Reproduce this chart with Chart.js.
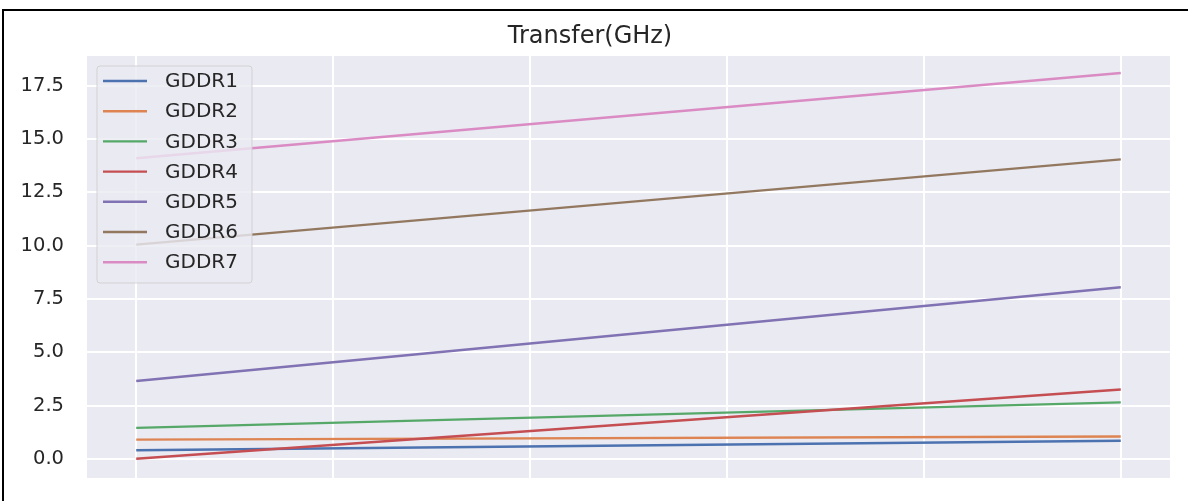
<!DOCTYPE html>
<html>
<head>
<meta charset="utf-8">
<script src="https://cdn.jsdelivr.net/npm/chart.js@4/dist/chart.umd.min.js"></script>
<style>
  html, body { margin: 0; padding: 0; background: #fff; }
  #wrap { position: relative; width: 1188px; height: 501px; }
  #frameTop { position: absolute; left: 2px; top: 9px; width: 1186px; height: 2px; background: #000; }
  #frameLeft { position: absolute; left: 2px; top: 9px; width: 2px; height: 492px; background: #000; }
</style>
</head>
<body>
<div id="wrap">
  <canvas id="chart" width="1188" height="501"></canvas>
  <div id="frameTop"></div>
  <div id="frameLeft"></div>
</div>
<script>
// values (start and end of each line)
let xValues = [0, 1];
let gddr1 = [0.4, 0.85];
let gddr2 = [0.9, 1.05];
let gddr3 = [1.45, 2.65];
let gddr4 = [0.0, 3.25];
let gddr5 = [3.65, 8.05];
let gddr6 = [10.05, 14.05];
let gddr7 = [14.1, 18.1];
let seriesNames = ["GDDR1", "GDDR2", "GDDR3", "GDDR4", "GDDR5", "GDDR6", "GDDR7"];
let colors = ["#4C72B0", "#DD8452", "#55A868", "#C44E52", "#8172B3", "#937860", "#DA8BC3"];
let xTicks = [0, 0.2, 0.4, 0.6, 0.8, 1.0];
let yTicks = [0, 2.5, 5, 7.5, 10, 12.5, 15, 17.5];

let allSeries = [gddr1, gddr2, gddr3, gddr4, gddr5, gddr6, gddr7];
let font = "DejaVu Sans";
let textColor = "#262626";

let datasets = allSeries.map(function (s, i) {
  return {
    label: seriesNames[i],
    data: xValues.map(function (x, j) { return { x: x, y: s[j] }; }),
    borderColor: colors[i],
    backgroundColor: colors[i],
    borderWidth: 2.4,
    pointRadius: 0,
    tension: 0,
    order: allSeries.length - i,
  };
});

// grey plot background like seaborn
let plotBackground = {
  id: "plotBackground",
  beforeDraw: function (chart) {
    let a = chart.chartArea;
    let ctx = chart.ctx;
    ctx.save();
    ctx.fillStyle = "#EAEAF2";
    ctx.fillRect(a.left, a.top, a.right - a.left, a.bottom - a.top);
    ctx.restore();
  },
};

// legend inside the plot, drawn over the lines
let innerLegend = {
  id: "innerLegend",
  afterDatasetsDraw: function (chart) {
    let a = chart.chartArea;
    let ctx = chart.ctx;
    let bx = a.left + 10;
    let by = a.top + 10;
    let bw = 155;
    let bh = 217;
    ctx.save();
    ctx.beginPath();
    ctx.roundRect(bx, by, bw, bh, 3);
    ctx.fillStyle = "rgba(234,234,242,0.8)";
    ctx.fill();
    ctx.strokeStyle = "rgba(204,204,204,0.8)";
    ctx.lineWidth = 1;
    ctx.stroke();
    ctx.font = "20px '" + font + "'";
    ctx.textBaseline = "middle";
    ctx.textAlign = "left";
    chart.data.datasets.forEach(function (ds, i) {
      let y = by + 15 + i * 30.2;
      ctx.beginPath();
      ctx.moveTo(bx + 6, y);
      ctx.lineTo(bx + 50, y);
      ctx.strokeStyle = ds.borderColor;
      ctx.lineWidth = 2.4;
      ctx.stroke();
      ctx.fillStyle = textColor;
      ctx.fillText(ds.label, bx + 68, y + 1);
    });
    ctx.restore();
  },
};

new Chart(document.getElementById("chart"), {
  type: "line",
  data: { datasets: datasets },
  options: {
    responsive: false,
    animation: false,
    layout: { padding: { left: 10, right: 18, top: 0, bottom: 23 } },
    plugins: {
      legend: { display: false },
      tooltip: { enabled: false },
      title: {
        display: true,
        text: "Transfer(GHz)",
        color: textColor,
        font: { family: font, size: 24, weight: "normal" },
        padding: { top: 22.4, bottom: 4.8 },
      },
    },
    scales: {
      x: {
        type: "linear",
        min: -0.05,
        max: 1.05,
        afterBuildTicks: function (axis) {
          axis.ticks = xTicks.map(function (v) { return { value: v }; });
        },
        afterFit: function (axis) { axis.height = 0; },
        ticks: { display: false },
        grid: { color: "#ffffff", lineWidth: 2, drawTicks: false },
        border: { display: false },
      },
      y: {
        min: -0.9,
        max: 18.9,
        afterBuildTicks: function (axis) {
          axis.ticks = yTicks.map(function (v) { return { value: v }; });
        },
        afterFit: function (axis) { axis.width = 77; },
        ticks: {
          color: textColor,
          padding: 0,
          font: { family: font, size: 19.5 },
          callback: function (v) { return v.toFixed(1); },
        },
        grid: {
          color: "#ffffff",
          lineWidth: 2,
          drawTicks: true,
          tickLength: 23,
          tickColor: "rgba(0,0,0,0)",
        },
        border: { display: false },
      },
    },
  },
  plugins: [plotBackground, innerLegend],
});
</script>
</body>
</html>
